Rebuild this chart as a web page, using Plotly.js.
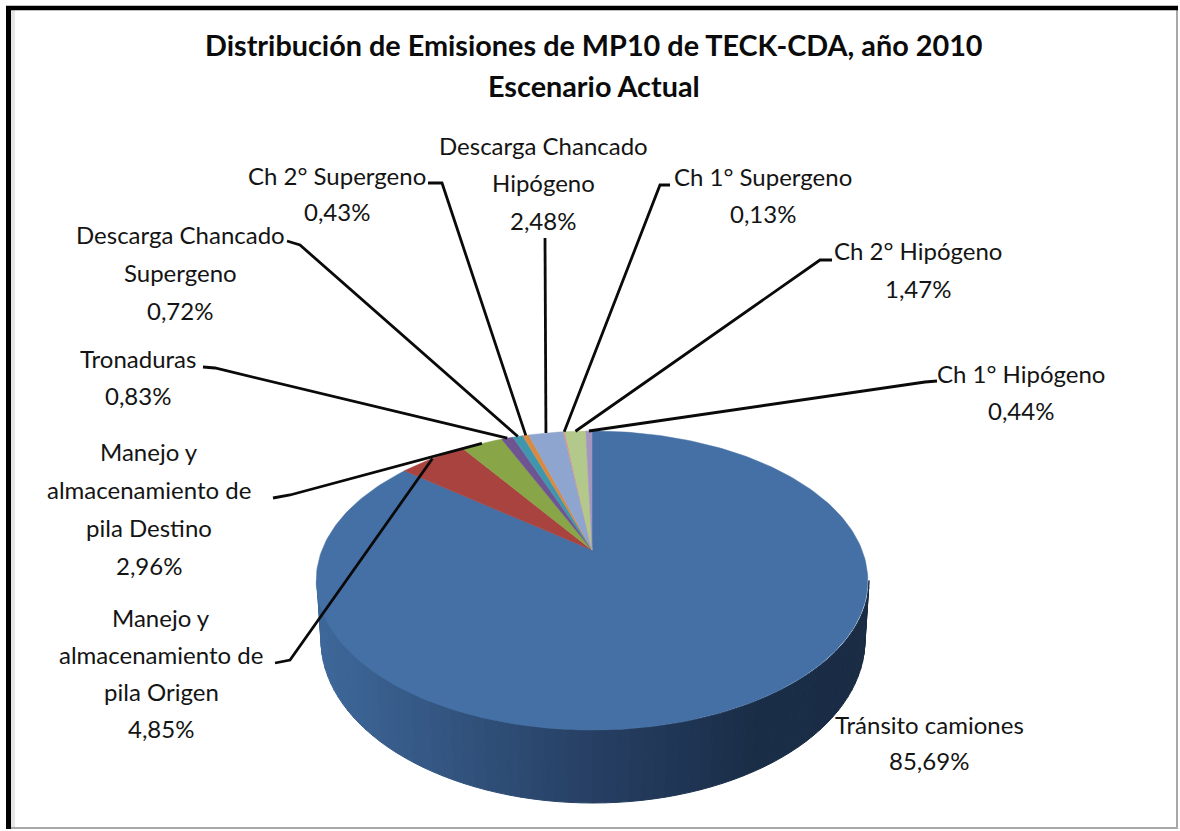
<!DOCTYPE html>
<html>
<head>
<meta charset="utf-8">
<script src="https://cdn.plot.ly/plotly-3.0.1.min.js"></script>
<style>html,body{margin:0;padding:0;background:#fff}#chart{width:1180px;height:831px}</style>
</head>
<body>
<div id="chart"></div>
<script>
// ---- data ----
const categories = ['Tránsito camiones','Manejo y almacenamiento de pila Origen','Manejo y almacenamiento de pila Destino','Tronaduras','Descarga Chancado Supergeno','Ch 2° Supergeno','Descarga Chancado Hipógeno','Ch 1° Supergeno','Ch 2° Hipógeno','Ch 1° Hipógeno'];
const values = [85.69,4.85,2.96,0.83,0.72,0.43,2.48,0.13,1.47,0.44];
const wrappedNames = [['Tránsito camiones'],['Manejo y','almacenamiento de','pila Origen'],['Manejo y','almacenamiento de','pila Destino'],['Tronaduras'],['Descarga Chancado','Supergeno'],['Ch 2° Supergeno'],['Descarga Chancado','Hipógeno'],['Ch 1° Supergeno'],['Ch 2° Hipógeno'],['Ch 1° Hipógeno']];
const titleLines = ['Distribución de Emisiones de MP10 de TECK-CDA, año 2010','Escenario Actual'];

// ---- style ----
const colors = ['#4470a5','#a8433f','#88a548','#6e5592','#3f96ad','#d98a42','#8ea5cf','#cf9d8f','#b3c98c','#a596c0'];
const sideStops = [[0,[62,104,154]],[0.5,[38,63,99]],[0.8,[26,45,71]],[1,[26,44,68]]];
const FONT = 'Lato, "Open Sans", sans-serif';
const TEXT = '#141414';

// ---- layout of labels (centre x, first line y, line gap) ----
const labelPos = [[929,724,36],[161,617,37],[149,451,38],[138,358,37],[180,234,38],[337,175,36],[543,145,37.5],[763,176,37],[918,250,38],[1021,373,37]];
// elbows of the leader lines: points from the label towards the slice
const leaderPath = [null,[[275,663],[290,660]],[[273,498],[290,495]],[[203,367],[215,368]],[[287,241],[300,245]],[[428,183],[442,183]],[[545,238]],[[670,185],[660,185]],[[832,260],[820,260]],[[937,381],[925,382]]];

// ---- tilted-disc projection: unit disc to the page ----
const CX = 592, K = 270, C = 0.204, A = -31.1, B = 550;
function proj(x, y) { const w = 1 + C * y; return [CX + K * x / w, (A * y + B) / w]; }
function rim(pct) { const t = pct / 100 * 2 * Math.PI; return proj(Math.sin(t), Math.cos(t)); }

const traces = [];

// side wall: a ruled surface from the lower half of the top rim to the bottom rim
const TOPY = 580.5, TOPRY = 149.5, TOPRX = 276, BOTY = 640, BOTRY = 163, BOTRX = 272;
function sideColor(f) {
  for (let i = 1; i < sideStops.length; i++) {
    if (f <= sideStops[i][0]) {
      const a = sideStops[i - 1], b = sideStops[i], u = (f - a[0]) / (b[0] - a[0]);
      const c = a[1].map((v, j) => Math.round(v + (b[1][j] - v) * u));
      return 'rgb(' + c.join(',') + ')';
    }
  }
  return 'rgb(26,44,68)';
}
const STRIPS = 70;
for (let i = 0; i < STRIPS; i++) {
  const a0 = Math.PI * i / STRIPS, a1 = Math.PI * (i + 1) / STRIPS;
  const c0 = -Math.cos(a0), s0 = Math.sin(a0), c1 = -Math.cos(a1), s1 = Math.sin(a1);
  const col = sideColor((c0 + c1) / 4 + 0.5);
  traces.push({
    type: 'scatter', mode: 'lines', fill: 'toself', fillcolor: col,
    line: {color: col, width: 1}, hoverinfo: 'skip', showlegend: false,
    x: [CX + 1 + TOPRX * c0, CX + 1 + TOPRX * c1, CX + 1 + BOTRX * c1, CX + 1 + BOTRX * c0, CX + 1 + TOPRX * c0],
    y: [TOPY + TOPRY * s0, TOPY + TOPRY * s1, BOTY + BOTRY * s1, BOTY + BOTRY * s0, TOPY + TOPRY * s0]
  });
}

// slices of the top face, from the values
let cum = 0;
const mids = [];
values.forEach((v, i) => {
  const xs = [CX], ys = [B];
  const n = Math.max(2, Math.ceil(v * 3));
  for (let k = 0; k <= n; k++) {
    const p = rim(cum + v * k / n);
    xs.push(p[0]); ys.push(p[1]);
  }
  xs.push(CX); ys.push(B);
  traces.push({
    type: 'scatter', mode: 'lines', fill: 'toself', fillcolor: colors[i],
    line: {color: colors[i], width: 0.5}, x: xs, y: ys, name: categories[i],
    text: categories[i] + ': ' + v.toFixed(2).replace('.', ',') + '%', hoverinfo: 'text', showlegend: false
  });
  mids.push(rim(cum + v / 2));
  cum += v;
});

// leader lines end on each slice's rim midpoint
leaderPath.forEach((path, i) => {
  if (!path) return;
  const pts = path.concat([mids[i]]);
  traces.push({
    type: 'scatter', mode: 'lines', line: {color: '#0a0a0a', width: 2.8},
    x: pts.map(p => p[0]), y: pts.map(p => p[1]), hoverinfo: 'skip', showlegend: false
  });
});

// text
const annotations = [];
function addText(text, x, y, size, bold, color) {
  annotations.push({
    text: bold ? '<b>' + text + '</b>' : text, x: x, y: y, xref: 'x', yref: 'y',
    showarrow: false, xanchor: 'center', yanchor: 'middle',
    font: {family: FONT, size: size, color: color}
  });
}
titleLines.forEach((t, i) => addText(t, 593.5, i === 0 ? 45 : 86, 28.8, true, '#0b0b0b'));
categories.forEach((c, i) => {
  const lines = wrappedNames[i].concat([values[i].toFixed(2).replace('.', ',') + '%']);
  lines.forEach((l, j) => addText(l, labelPos[i][0], labelPos[i][1] + j * labelPos[i][2], 24, false, TEXT));
});

const layout = {
  width: 1180, height: 831, margin: {l: 0, r: 0, t: 0, b: 0, pad: 0},
  paper_bgcolor: '#fff', plot_bgcolor: '#fff', showlegend: false,
  xaxis: {range: [0, 1180], visible: false, fixedrange: true},
  yaxis: {range: [831, 0], visible: false, fixedrange: true},
  annotations: annotations,
  shapes: [
    {type: 'rect', xref: 'x', yref: 'y', x0: 11, x1: 15, y0: 10, y1: 827, line: {width: 0}, fillcolor: '#e6e6e6', layer: 'below'},
    {type: 'line', xref: 'x', yref: 'y', x0: 1177, x1: 1177, y0: 8, y1: 828, line: {color: '#a8a8a8', width: 2}},
    {type: 'line', xref: 'x', yref: 'y', x0: 8, x1: 1178, y0: 828, y1: 828, line: {color: '#a8a8a8', width: 2}},
    {type: 'line', xref: 'x', yref: 'y', x0: 8.5, x1: 8.5, y0: 6, y1: 829, line: {color: '#000', width: 5}},
    {type: 'line', xref: 'x', yref: 'y', x0: 6, x1: 1178, y0: 8, y1: 8, line: {color: '#000', width: 4.5}}
  ]
};
Plotly.newPlot('chart', traces, layout, {displayModeBar: false, responsive: false});
</script>
</body>
</html>
